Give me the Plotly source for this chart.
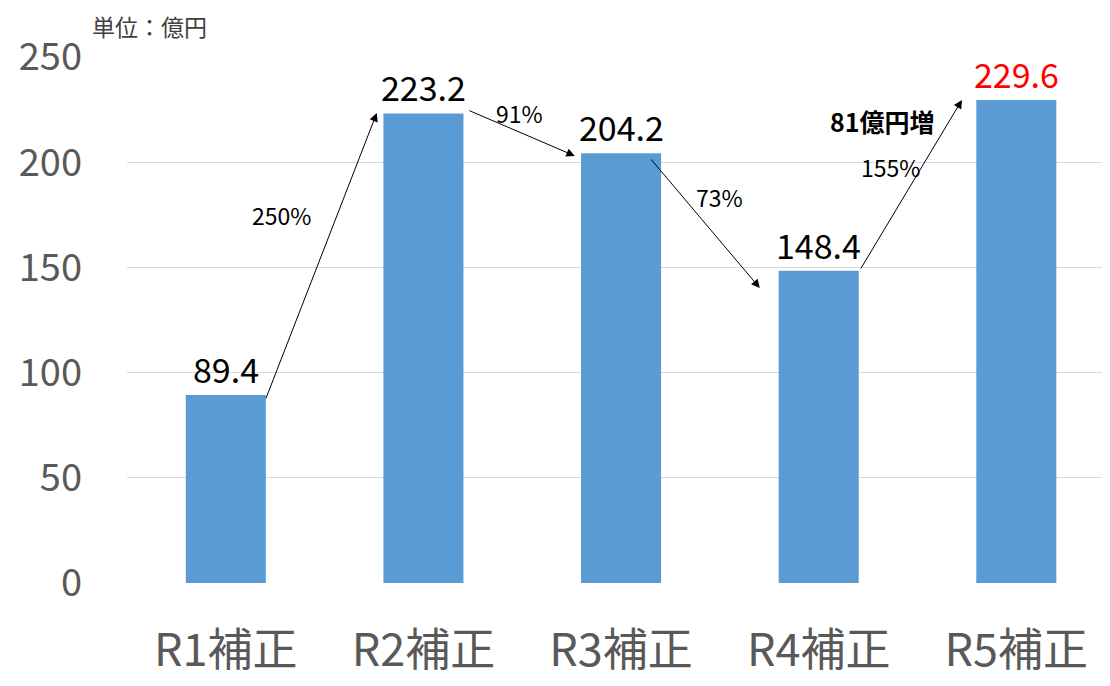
import plotly.graph_objects as go

categories = ["R1補正", "R2補正", "R3補正", "R4補正", "R5補正"]
values = [89.4, 223.2, 204.2, 148.4, 229.6]
value_labels = ["89.4", "223.2", "204.2", "148.4", "229.6"]
label_colors = ["#000000", "#000000", "#000000", "#000000", "#ff0000"]
y_ticks = [0, 50, 100, 150, 200, 250]

# arrows: (start x, start y, end x, end y)
arrows = [(0.2, 87, 0.764, 223.4), (1.225, 224.8, 1.766, 203),
          (2.146, 202, 2.702, 140.2), (3.209, 148.8, 3.725, 229.6)]
pct_labels = ["250%", "91%", "73%", "155%"]
pct_pos = [(0.283, 174.9), (1.488, 223.4), (2.5, 183.5), (3.365, 197.7)]

FONT = "Noto Sans CJK JP"

fig = go.Figure(go.Bar(x=list(range(len(categories))), y=values, marker_color="#5b9bd5",
                       marker_line_width=0, width=0.405))

ann = []
for i, (v, t, c) in enumerate(zip(values, value_labels, label_colors)):
    ann.append(dict(x=i, y=v, text=t, showarrow=False, yanchor="bottom", yshift=0,
                    font=dict(size=34, color=c, family=FONT)))
for (x0, y0, x1, y1) in arrows:
    ann.append(dict(x=x1, y=y1, ax=x0, ay=y0, xref="x", yref="y", axref="x", ayref="y",
                    text="", showarrow=True, arrowhead=2, arrowsize=1.7, arrowwidth=1,
                    arrowcolor="#000000"))
for t, (x, y) in zip(pct_labels, pct_pos):
    ann.append(dict(x=x, y=y, text=t, showarrow=False,
                    font=dict(size=23, color="#000000", family=FONT)))
ann.append(dict(x=3.325, y=219.6, text="<b>81億円増</b>", showarrow=False,
                font=dict(size=25, color="#000000", family=FONT)))
ann.append(dict(x=(90 - 127) / 983, xanchor="left", y=1 + (57 - 26) / 526, yanchor="middle",
                xref="paper", yref="paper", text="単位：億円", showarrow=False,
                font=dict(size=23, color="#404040", family=FONT)))

fig.update_layout(
    width=1102, height=678,
    margin=dict(l=119, r=0, t=49, b=103),
    paper_bgcolor="white", plot_bgcolor="white",
    showlegend=False,
    annotations=ann,
    xaxis=dict(tickmode="array", tickvals=list(range(len(categories))), ticktext=categories,
               range=[-0.5, 4.474], showgrid=False, zeroline=False, showline=False,
               tickfont=dict(size=45, color="#595959", family=FONT), ticks="",
               ticklabelstandoff=37, automargin=False),
    yaxis=dict(range=[0, 250], tickvals=y_ticks, showgrid=True, gridcolor="#d9d9d9",
               gridwidth=1, zeroline=False, showline=False,
               tickfont=dict(size=38, color="#595959", family=FONT), ticks="",
               ticklabelstandoff=44, automargin=False),
)

fig.write_html("out.html")
